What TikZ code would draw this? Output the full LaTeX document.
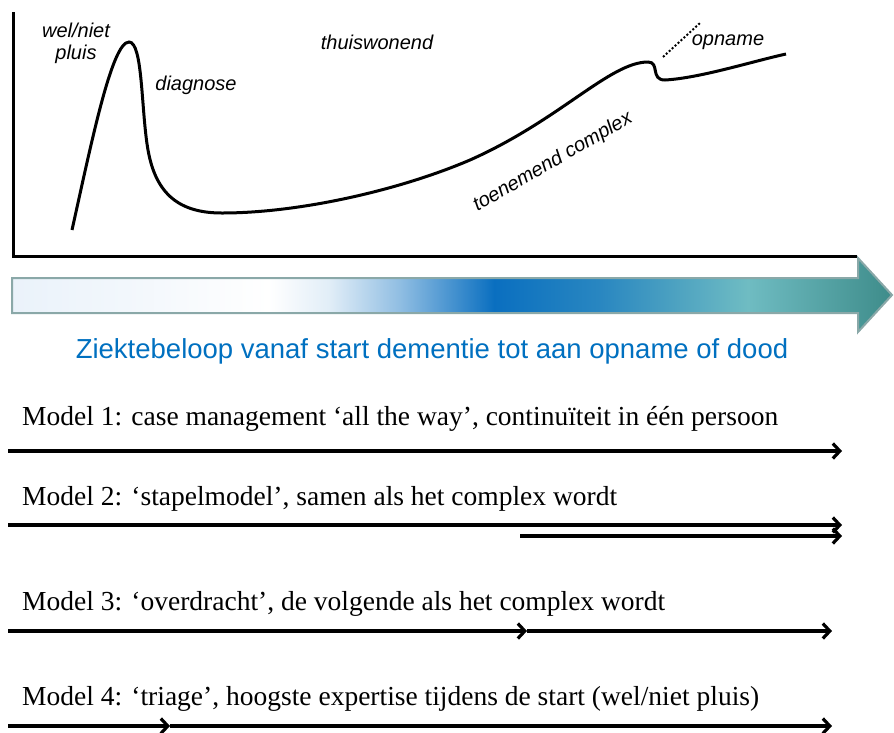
\documentclass[tikz,border=0pt]{standalone}
\usepackage{fontspec}
\setmainfont{Liberation Serif}
\newfontfamily\arialfont{Liberation Sans}
\usepackage{tikz}
\usetikzlibrary{
  arrows.meta,
  positioning
}
\definecolor{lichtblauw}{HTML}{EAF2FA}
\definecolor{midblauw}{HTML}{0A6FC0}
\definecolor{lichtteal}{HTML}{6FBCC2}
\definecolor{donkerteal}{HTML}{3E8C8A}
\definecolor{randteal}{HTML}{8AA8A8}
\definecolor{titelblauw}{HTML}{0070C0}
\pgfdeclarehorizontalshading{beloop}{100bp}{
  color(0bp)=(lichtblauw); color(25bp)=(lichtblauw);
  color(31.7bp)=(lichtblauw!60!white); color(39.6bp)=(white);
  color(43bp)=(midblauw!12!white); color(47bp)=(midblauw!45!white);
  color(52.4bp)=(midblauw); color(58.3bp)=(midblauw!70!lichtteal);
  color(66.8bp)=(lichtteal); color(75bp)=(donkerteal); color(100bp)=(donkerteal)}
\tikzset{
  >={Straight Barb[length=7pt,width=15pt]},
  fase/.style={font=\arialfont\itshape\fontsize{20}{22}\selectfont, inner sep=1pt},
  model/.style={anchor=base west, inner sep=0pt, font=\fontsize{27.5}{29}\selectfont},
  pijl/.style={->, line width=3.2pt},
  as/.style={line width=3pt}
}

\begin{document}
\begin{tikzpicture}[x=1pt,y=-1pt]
    \useasboundingbox (0,0) rectangle (894,732);
    % assen
    \coordinate (top) at (13,12);
    \coordinate (oorsprong) at (13,256);
    \coordinate (eind) at (857,256);
    \draw[as] (top) -- (oorsprong) -- (eind);
    % curve
    \draw[line width=3pt] (72,230) .. controls (92,140) and (112,42) .. (129,42)
      .. controls (143,42) and (141,110) .. (148,150)
      .. controls (156,195) and (180,213) .. (222,213)
      .. controls (300,213) and (400,190) .. (470,160)
      .. controls (560,120) and (610,62) .. (648,62)
      .. controls (660,62) and (650,80) .. (665,80)
      .. controls (700,78) and (750,62) .. (786,54);
    \draw[line width=2pt, dotted] (663,57) -- (700,23);
    % labels
    \node[fase, align=center] (welniet) at (76,43) {wel/niet\\pluis};
    \node[fase] (diagnose) at (196,85) {diagnose};
    \node[fase] (thuis) at (377,42) {thuiswonend};
    \node[fase, rotate=30] (complex) at (553,162) {toenemend complex};
    \node[fase] (opname) at (728,42) {opname};
    % balk
    \shade[shading=beloop, draw=randteal, line width=2pt]
      (12,278) -- (858,278) -- (858,258) -- (892,295) -- (858,332) -- (858,313) -- (12,313) -- cycle;
    \node[font=\arialfont\fontsize{27.5}{30}\selectfont, text=titelblauw] (titel) at (432,351)
      {Ziektebeloop vanaf start dementie tot aan opname of dood};
    % modellen
    \node[model] (m1) at (22,425) {Model 1: case management ‘all the way’, continuïteit in één persoon};
    \node[model] (m2) at (22,505) {Model 2: ‘stapelmodel’, samen als het complex wordt};
    \node[model] (m3) at (22,610) {Model 3: ‘overdracht’, de volgende als het complex wordt};
    \node[model] (m4) at (22,705) {Model 4: ‘triage’, hoogste expertise tijdens de start (wel/niet pluis)};
    \coordinate (m1a) at (8,451);   \coordinate (m1b) at (842,451);
    \coordinate (m2a) at (8,525);   \coordinate (m2b) at (842,525);
    \coordinate (m2c) at (520,536); \coordinate (m2d) at (842,536);
    \coordinate (m3a) at (8,631);   \coordinate (m3b) at (527,631);
    \coordinate (m3c) at (832,631);
    \coordinate (m4a) at (8,726);   \coordinate (m4b) at (170,726);
    \coordinate (m4c) at (832,726);
    \draw[pijl] (m1a) -- (m1b);
    \draw[pijl] (m2a) -- (m2b);
    \draw[pijl] (m2c) -- (m2d);
    \draw[pijl] (m3a) -- (m3b);
    \draw[pijl] (m3b) -- (m3c);
    \draw[pijl] (m4a) -- (m4b);
    \draw[pijl] (m4b) -- (m4c);
  \end{tikzpicture}
\end{document}
